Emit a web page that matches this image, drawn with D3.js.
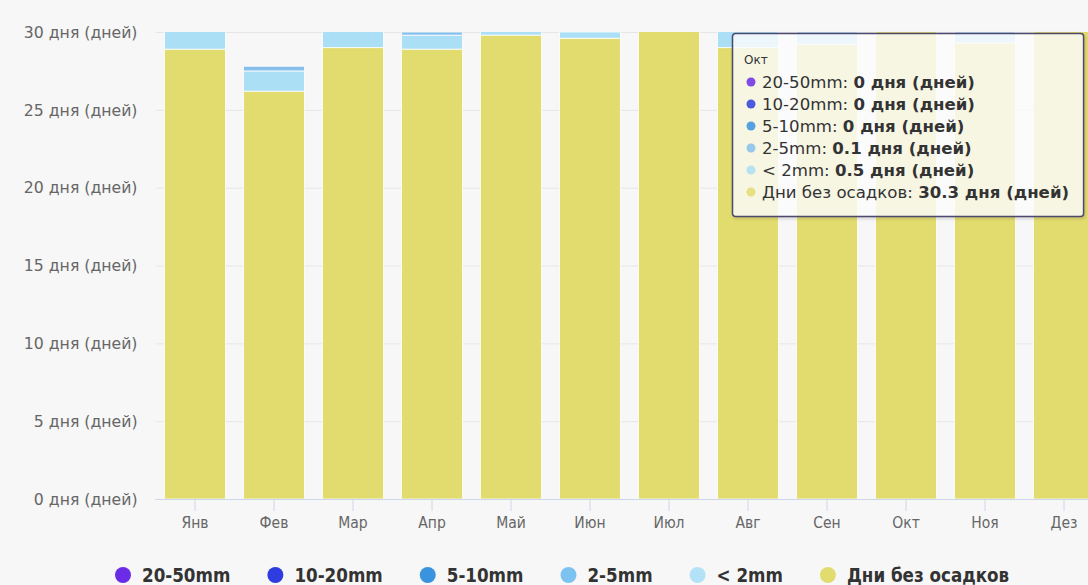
<!DOCTYPE html>
<html>
<head>
<meta charset="utf-8">
<script src="https://cdn.jsdelivr.net/npm/d3@7/dist/d3.min.js"></script>
<style>
  html, body { margin: 0; padding: 0; background: #f7f7f7; }
  svg { display: block; }
</style>
</head>
<body>
<svg id="chart" width="1088" height="585"></svg>
<script>
// Monthly count of days by precipitation amount
const months = ["Янв","Фев","Мар","Апр","Май","Июн","Июл","Авг","Сен","Окт","Ноя","Дез"];
const dryDays   = [28.9, 26.2, 29.0, 28.9, 29.8, 29.6, 30.5, 29.0, 29.2, 30.3, 29.3, 30.2];
const under2mm  = [1.8, 1.3, 1.6, 0.9, 1.0, 0.4, 0.4, 1.6, 0.7, 0.5, 0.6, 0.7];
const mm2to5    = [0.3, 0.3, 0.4, 0.2, 0.2, 0.0, 0.1, 0.4, 0.1, 0.1, 0.1, 0.1];
const mm5to10   = [0, 0, 0, 0, 0, 0, 0, 0, 0, 0, 0, 0];
const mm10to20  = [0, 0, 0, 0, 0, 0, 0, 0, 0, 0, 0, 0];
const mm20to50  = [0, 0, 0, 0, 0, 0, 0, 0, 0, 0, 0, 0];
const yTicks = [0, 5, 10, 15, 20, 25, 30];
const unit = "дня (дней)";
const hoverMonth = "Окт";

// bottom-to-top stacking order
const series = [
  { name: "Дни без осадков", values: dryDays,  color: "#e2dc6e" },
  { name: "< 2mm",           values: under2mm, color: "#aadff5" },
  { name: "2-5mm",           values: mm2to5,   color: "#85bfea" },
  { name: "5-10mm",          values: mm5to10,  color: "#3a93df" },
  { name: "10-20mm",         values: mm10to20, color: "#2e3de0" },
  { name: "20-50mm",         values: mm20to50, color: "#6a2ce6" }
];
const legendColors = {
  "Дни без осадков": "#e2dc6e", "< 2mm": "#b3e2f7", "2-5mm": "#7dc3f1",
  "5-10mm": "#3a93df", "10-20mm": "#2e3de0", "20-50mm": "#6a2ce6"
};

const svg = d3.select("#chart");
const W = 1088, H = 585;
const plot = { left: 155.5, right: 1103.5, top: 32, bottom: 499 };

const x = d3.scaleBand().domain(months)
  .range([plot.left, plot.right])
  .paddingInner(0.228).paddingOuter(0.114);
const y = d3.scaleLinear().domain([0, 30]).range([plot.bottom, plot.top]);

const defs = svg.append("defs");
defs.append("clipPath").attr("id", "plotClip").append("rect")
  .attr("x", plot.left).attr("y", plot.top)
  .attr("width", plot.right - plot.left).attr("height", plot.bottom - plot.top);
const sh = defs.append("filter").attr("id", "tipShadow")
  .attr("x", "-5%").attr("y", "-5%").attr("width", "115%").attr("height", "115%");
sh.append("feDropShadow").attr("dx", 1).attr("dy", 1.5).attr("stdDeviation", 1.5)
  .attr("flood-color", "#000").attr("flood-opacity", 0.18);

// horizontal grid + y labels
const yAxis = d3.axisLeft(y).tickValues(yTicks)
  .tickSize(-(W - plot.left)).tickPadding(18)
  .tickFormat(d => `${d} ${unit}`);
const gy = svg.append("g").attr("transform", `translate(${plot.left},0)`).call(yAxis);
gy.select(".domain").remove();
gy.selectAll(".tick line").attr("stroke", "#e6e6e6");
gy.selectAll(".tick text")
  .attr("fill", "#666").attr("font-family", "DejaVu Sans, sans-serif")
  .attr("font-size", 15.7).attr("dy", "0.33em");

// stacked bars
const rows = months.map((m, i) => {
  const r = { month: m };
  series.forEach(s => r[s.name] = s.values[i]);
  return r;
});
const stack = d3.stack().keys(series.map(s => s.name))(rows);

const gBars = svg.append("g").attr("clip-path", "url(#plotClip)");
gBars.selectAll("g.layer").data(stack).join("g")
  .attr("class", "layer")
  .attr("fill", (d, i) => series[i].color)
  .selectAll("rect").data(d => d).join("rect")
  .attr("x", d => x(d.data.month))
  .attr("width", x.bandwidth())
  .attr("y", d => y(d[1]))
  .attr("height", d => Math.max(0, y(d[0]) - y(d[1])))
  .attr("stroke", "#ffffff").attr("stroke-width", d => (d[1] - d[0]) > 0 ? 1 : 0)
  .attr("stroke-opacity", 0.8);

// x axis
const xAxis = d3.axisBottom(x).tickSize(12).tickPadding(6).tickSizeOuter(0);
const gx = svg.append("g").attr("transform", `translate(0,${plot.bottom})`).call(xAxis);
gx.select(".domain").attr("stroke", "#ccd6eb").attr("d", `M${plot.left},0.5H${W}`);
gx.selectAll(".tick line").attr("stroke", "#ccd6eb");
gx.selectAll(".tick text")
  .attr("fill", "#666").attr("font-family", "DejaVu Sans Condensed, DejaVu Sans, sans-serif")
  .attr("font-size", 15.5);

// legend (top of stack first)
const legendItems = series.slice().reverse();
const gLeg = svg.append("g").attr("transform", "translate(0,575)");
let lx = 115;
legendItems.forEach(s => {
  const g = gLeg.append("g").attr("transform", `translate(${lx},0)`);
  g.append("circle").attr("cx", 8).attr("cy", 0).attr("r", 8).attr("fill", legendColors[s.name]);
  const t = g.append("text").attr("x", 27).attr("y", 0).attr("dy", "0.36em")
    .attr("font-family", "DejaVu Sans Condensed, DejaVu Sans, sans-serif")
    .attr("font-weight", "bold").attr("font-size", 18.6).attr("fill", "#333")
    .text(s.name);
  lx += 27 + t.node().getComputedTextLength() + 37;
});

// tooltip for the hovered month
const mi = months.indexOf(hoverMonth);
const tip = svg.append("g").attr("transform", "translate(732,33)");
const tipBox = tip.append("rect").attr("x", 0.5).attr("y", 0.5)
  .attr("rx", 3).attr("ry", 3)
  .attr("fill", "rgba(255,255,255,0.8)")
  .attr("stroke", "#4e4a6e").attr("stroke-width", 1.5)
  .attr("filter", "url(#tipShadow)");
tip.append("text").attr("x", 12).attr("y", 31)
  .attr("font-family", "DejaVu Sans, sans-serif").attr("font-size", 12).attr("fill", "#333")
  .text(hoverMonth);
let maxW = 0;
legendItems.forEach((s, k) => {
  const cy = 49 + k * 22;
  tip.append("circle").attr("cx", 19).attr("cy", cy).attr("r", 4.5)
    .attr("fill", s.color).attr("fill-opacity", 0.85);
  const t = tip.append("text").attr("x", 30).attr("y", cy).attr("dy", "0.36em")
    .attr("font-family", "DejaVu Sans, sans-serif").attr("font-size", 16.6).attr("fill", "#333");
  t.append("tspan").text(`${s.name}: `);
  t.append("tspan").attr("font-weight", "bold").text(`${s.values[mi]} ${unit}`);
  maxW = Math.max(maxW, 30 + t.node().getComputedTextLength());
});
tipBox.attr("width", maxW + 14).attr("height", 183);
</script>
</body>
</html>
